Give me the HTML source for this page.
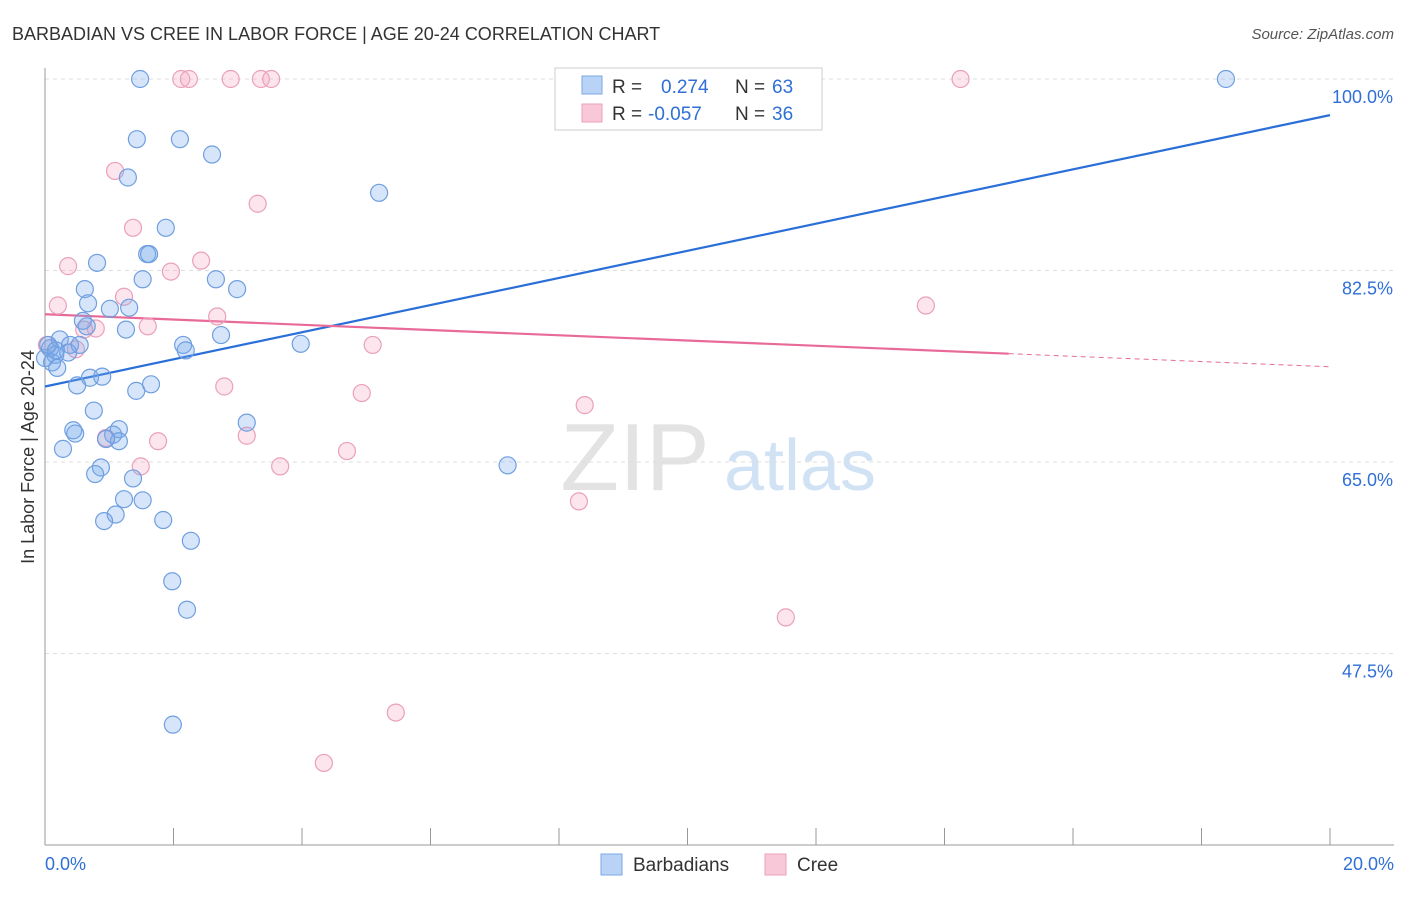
<!DOCTYPE html>
<html><head><meta charset="utf-8">
<style>
body{margin:0;background:#fff;font-family:"Liberation Sans",sans-serif;}
svg text{font-family:"Liberation Sans",sans-serif;}
</style></head>
<body>
<svg id="chart" width="1406" height="892" xmlns="http://www.w3.org/2000/svg">
<text x="12" y="40" font-size="18" fill="#333">BARBADIAN VS CREE IN LABOR FORCE | AGE 20-24 CORRELATION CHART</text>
<text x="1394" y="39" font-size="15" fill="#555" font-style="italic" text-anchor="end">Source: ZipAtlas.com</text>
<text x="34" y="457" font-size="18" fill="#333" text-anchor="middle" transform="rotate(-90 34 457)">In Labor Force | Age 20-24</text>
<g>
<text x="635" y="490" font-size="96" fill="#ddd" font-family="Liberation Serif" text-anchor="middle" opacity="0.8">ZIP</text>
<text x="800" y="490" font-size="72" fill="#c6dcf3" text-anchor="middle" opacity="0.8">atlas</text>
</g>
<g id="grid"></g><g id="axes"></g><g id="trend"></g><g id="pts"></g>
<g>
<rect x="555" y="68" width="267" height="62" fill="#fff" stroke="#ccc"/>
<rect x="582" y="76" width="20" height="18" fill="#b8d3f5" stroke="#7aa9e6"/>
<rect x="582" y="104" width="20" height="18" fill="#f8c8d8" stroke="#eaa0ba"/>
<text x="612" y="93" font-size="19" fill="#333">R = </text><text x="661" y="93" font-size="19" fill="#2f6fd6">0.274</text>
<text x="735" y="93" font-size="19" fill="#333">N = </text><text x="772" y="93" font-size="19" fill="#2f6fd6">63</text>
<text x="612" y="120" font-size="19" fill="#333">R = </text><text x="648" y="120" font-size="19" fill="#2f6fd6">-0.057</text>
<text x="735" y="120" font-size="19" fill="#333">N = </text><text x="772" y="120" font-size="19" fill="#2f6fd6">36</text>
</g>
<g>
<rect x="601" y="854" width="21" height="21" fill="#b8d3f5" stroke="#7aa9e6"/>
<text x="633" y="871" font-size="19" fill="#333">Barbadians</text>
<rect x="765" y="854" width="21" height="21" fill="#f8c8d8" stroke="#eaa0ba"/>
<text x="797" y="871" font-size="19" fill="#333">Cree</text>
</g>
</svg>
<script>
const yTicks=[100,82.5,65,47.5];
const yTickLabels=["100.0%","82.5%","65.0%","47.5%"];
const xTicks=[0,2,4,6,8,10,12,14,16,18,20];
const blueX=[1.48,1.43,2.10,2.60,1.29,5.20,1.88,1.59,1.62,0.81,1.52,2.66,2.99,0.62,0.67,1.01,1.31,0.59,0.65,1.26,2.74,0.23,0.39,0.54,2.15,2.19,3.98,0.08,0.16,0.36,0.00,0.11,0.19,0.70,0.89,1.65,0.50,1.42,0.76,3.14,0.44,0.47,1.15,1.06,1.15,0.95,0.28,0.87,0.78,1.37,1.23,1.52,1.10,0.92,1.84,2.27,1.98,2.21,1.99,7.20,18.38,0.05,0.17];
const blueY=[100,94.5,94.5,93.1,91.0,89.6,86.4,84.0,84.0,83.2,81.7,81.7,80.8,80.8,79.5,79.0,79.1,77.9,77.4,77.1,76.6,76.2,75.7,75.7,75.7,75.2,75.8,75.4,74.8,75.0,74.5,74.1,73.6,72.7,72.8,72.1,72.0,71.5,69.7,68.6,67.9,67.6,68.0,67.5,66.9,67.1,66.2,64.5,63.9,63.5,61.6,61.5,60.2,59.6,59.7,57.8,54.1,51.5,41.0,64.7,100,75.7,75.2];
const pinkX=[2.12,2.24,2.89,3.36,3.52,10.58,14.25,1.09,1.37,3.31,0.36,1.96,2.43,1.23,0.20,2.68,1.60,0.79,0.61,0.48,5.10,2.79,4.93,3.14,1.76,0.95,1.49,3.66,4.70,8.40,8.31,13.71,11.53,5.46,4.34,0.03];
const pinkY=[100,100,100,100,100,100,100,91.6,86.4,88.6,82.9,82.4,83.4,80.1,79.3,78.3,77.4,77.2,77.1,75.3,75.7,71.9,71.3,67.4,66.9,67.2,64.6,64.6,66.0,70.2,61.4,79.3,50.8,42.1,37.5,75.7];
const blueTrend=[71.9,96.7];
const pinkTrend=[78.5,73.7];
const pinkSolidEnd=15;
const X=v=>45+v/20*1285, Y=v=>79+(100-v)*10.943;
const NS="http://www.w3.org/2000/svg";
function mk(p,t,a){const e=document.createElementNS(NS,t);for(const k in a)e.setAttribute(k,a[k]);p.appendChild(e);return e;}
const grid=document.getElementById('grid'),axes=document.getElementById('axes'),tr=document.getElementById('trend'),pts=document.getElementById('pts');
yTicks.forEach((v,i)=>{
 const l=mk(grid,'line',{x1:45,x2:1394,y1:Y(v),y2:Y(v),stroke:'#ddd','stroke-dasharray':'4 4'});
 
 
 const t=mk(grid,'text',{x:1393,y:Y(v)+24,'font-size':18,fill:'#2f6fd6','text-anchor':'end'});t.textContent=yTickLabels[i];
 
 
});
const ya=mk(axes,'line',{x1:45,x2:45,y1:68,y2:845,stroke:'#999'});


const xa=mk(axes,'line',{x1:45,x2:1394,y1:845,y2:845,stroke:'#999'});


xTicks.forEach(v=>{const t=mk(axes,'line',{x1:X(v),x2:X(v),y1:828,y2:845,stroke:'#999'});
 
 });
const x0=mk(axes,'text',{x:45,y:870,'font-size':18,fill:'#2f6fd6'});x0.textContent='0.0%';


const x1=mk(axes,'text',{x:1394,y:870,'font-size':18,fill:'#2f6fd6','text-anchor':'end'});x1.textContent='20.0%';


function dots(xs,ys,fill,stroke,name){xs.forEach((x,i)=>{const c=mk(pts,'circle',{cx:X(x),cy:Y(ys[i]),r:8.5,fill:fill,stroke:stroke,'stroke-width':1.2});
 
 });}
dots(pinkX,pinkY,'rgba(244,170,196,0.3)','#eaa0ba','cree-point');
dots(blueX,blueY,'rgba(120,170,235,0.3)','#6f9fe0','barbadian-point');
const bt=mk(tr,'line',{x1:X(0),y1:Y(blueTrend[0]),x2:X(20),y2:Y(blueTrend[1]),stroke:'#2a6fd8','stroke-width':2.2});


const pm=pinkTrend[0]+(pinkTrend[1]-pinkTrend[0])*pinkSolidEnd/20;
const pt=mk(tr,'line',{x1:X(0),y1:Y(pinkTrend[0]),x2:X(pinkSolidEnd),y2:Y(pm),stroke:'#e86a98','stroke-width':2.2});


const pd=mk(tr,'line',{x1:X(pinkSolidEnd),y1:Y(pm),x2:X(20),y2:Y(pinkTrend[1]),stroke:'#e86a98','stroke-width':1,'stroke-dasharray':'5 4'});


</script>
</body></html>
